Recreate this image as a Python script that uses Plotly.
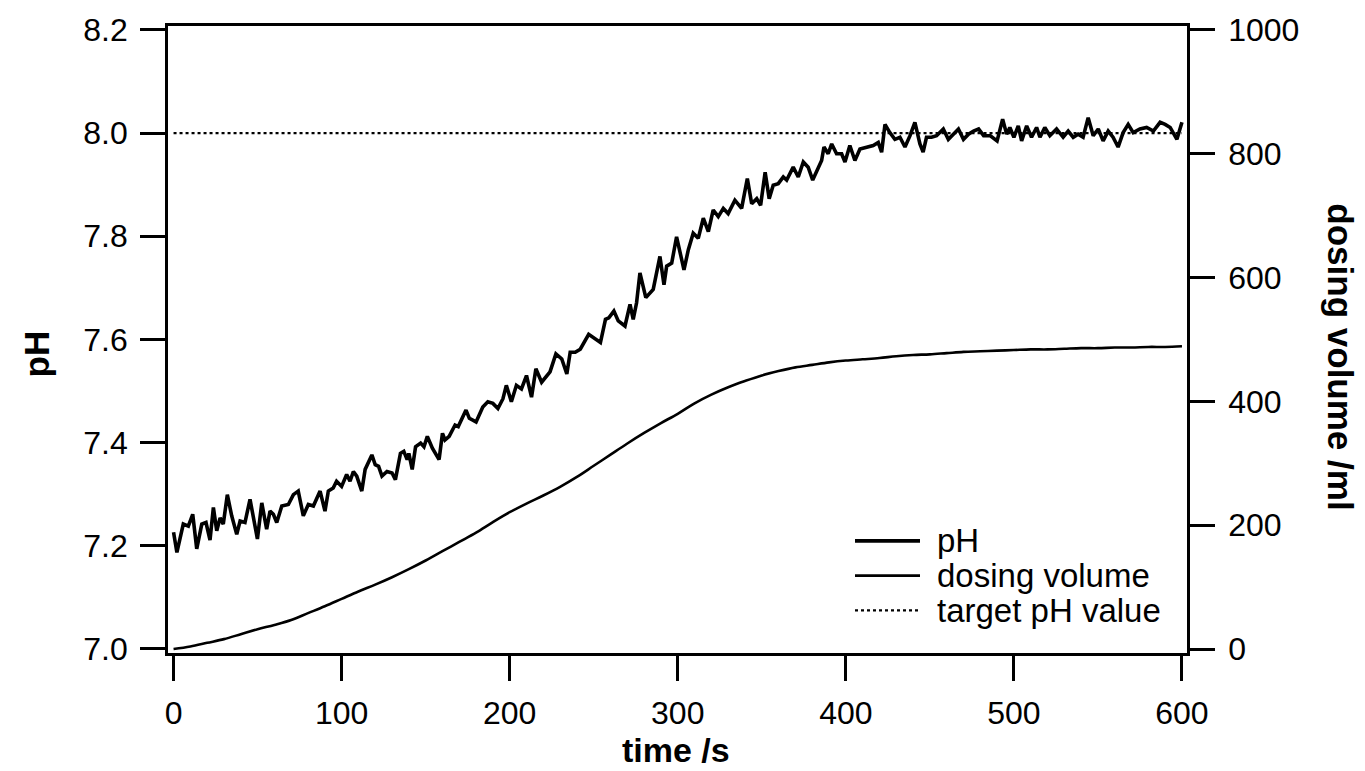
import plotly.graph_objects as go

# ---------------- data ----------------
ph_time = [0, 2, 5.8, 8.8, 11.4, 13.8, 16.8, 19.3, 21.7, 23.7, 25.7, 27.7, 29.6, 32, 34.6, 37.6, 39.6,
           42.5, 45.5, 47.5, 49.9, 52.5, 55.4, 57.4, 59.4, 61.4, 64.4, 68.3, 71.3, 74.2, 77.2, 80.2,
           83.2, 87.2, 90.1, 92.1, 95, 97, 100, 103, 105, 107, 109, 112, 114, 118, 120, 122, 124,
           127, 130, 132, 135, 137, 139, 140, 142, 144, 147, 149, 151, 154, 158, 160, 161.5, 164,
           167.5, 169.4, 171.4, 174, 176, 180, 184, 187, 190, 193, 196, 198, 201, 204, 207, 210,
           213, 215.6, 219, 224, 227.5, 231, 234, 236, 239, 242, 247, 251, 254, 257, 259, 262,
           264.6, 268.6, 271.6, 273.5, 275.5, 277.5, 281, 285.4, 289.4, 291.8, 293.4, 296.4, 299.3,
           303.7, 306.3, 309.2, 312.2, 315.2, 318.2, 321.1, 324.1, 327.1, 330, 334, 338, 341.4, 344,
           347, 349.3, 352, 354.4, 356.8, 359.8, 362.8, 364.8, 368.7, 371.7, 374.7, 377.6, 380.3,
           382.6, 385.6, 387, 389.5, 391.6, 394.5, 397.5, 399.5, 402.4, 405.4, 408.4, 412.4, 416.3,
           419.3, 421.3, 423.3, 426.2, 429.2, 432.2, 435.2, 438.2, 441.1, 444.1, 446, 448, 451, 454,
           458, 461, 464, 467, 470, 473, 476, 479, 482, 486, 490, 493.3, 495.7, 497.6, 500, 502.6,
           504.6, 507.6, 510.5, 513.5, 515.5, 518.4, 521.4, 525.4, 529.3, 532.3, 535.3, 538.2,
           541.2, 544.2, 547.2, 550.2, 553.1, 556.1, 559, 562, 565, 568, 571, 575, 579, 583, 587,
           590, 593, 597, 600]
ph_value = [7.226, 7.187, 7.242, 7.238, 7.261, 7.194, 7.242, 7.245, 7.211, 7.274, 7.229, 7.254,
            7.242, 7.299, 7.258, 7.222, 7.248, 7.245, 7.290, 7.254, 7.213, 7.283, 7.232, 7.267,
            7.261, 7.245, 7.277, 7.280, 7.299, 7.306, 7.258, 7.280, 7.277, 7.306, 7.267, 7.306,
            7.312, 7.325, 7.315, 7.338, 7.325, 7.344, 7.335, 7.306, 7.348, 7.376, 7.357, 7.354,
            7.335, 7.344, 7.341, 7.328, 7.379, 7.383, 7.367, 7.379, 7.348, 7.392, 7.399, 7.392,
            7.412, 7.389, 7.367, 7.418, 7.405, 7.412, 7.434, 7.431, 7.444, 7.463, 7.447, 7.440,
            7.469, 7.479, 7.476, 7.466, 7.485, 7.511, 7.479, 7.511, 7.504, 7.530, 7.488, 7.543,
            7.517, 7.537, 7.572, 7.562, 7.533, 7.575, 7.575, 7.581, 7.610, 7.601, 7.594, 7.639,
            7.642, 7.655, 7.636, 7.626, 7.668, 7.639, 7.671, 7.729, 7.681, 7.697, 7.761, 7.706,
            7.742, 7.748, 7.799, 7.735, 7.774, 7.806, 7.796, 7.835, 7.809, 7.851, 7.838, 7.854,
            7.844, 7.870, 7.854, 7.912, 7.863, 7.873, 7.860, 7.924, 7.873, 7.899, 7.902, 7.915,
            7.909, 7.934, 7.915, 7.944, 7.934, 7.909, 7.924, 7.947, 7.973, 7.960, 7.979, 7.960,
            7.960, 7.944, 7.976, 7.947, 7.969, 7.973, 7.976, 7.982, 7.963, 8.017, 8.001, 7.988,
            7.992, 7.973, 7.995, 8.021, 7.979, 7.963, 7.992, 7.992, 7.995, 8.008, 7.988, 7.998,
            8.008, 7.988, 7.998, 8.004, 8.008, 7.995, 7.995, 7.985, 8.027, 7.998, 8.011, 7.992,
            8.014, 7.985, 8.014, 7.992, 8.011, 7.992, 8.011, 7.995, 8.008, 7.992, 8.004, 7.992,
            7.998, 7.992, 8.030, 7.995, 8.008, 7.985, 8.004, 7.992, 7.973, 8.001, 8.017, 8.001,
            8.008, 8.011, 8.004, 8.021, 8.017, 8.011, 7.988, 8.021]

dose_time = [0, 10, 20, 30, 40, 50, 60, 70, 80, 90, 100, 110, 120, 130, 140, 150, 160, 170, 180,
             190, 200, 210, 220, 230, 240, 250, 260, 270, 280, 290, 300, 310, 320, 330, 340, 350,
             360, 370, 380, 390, 400, 410, 420, 430, 440, 450, 460, 470, 480, 490, 500, 510, 520,
             530, 540, 550, 560, 570, 580, 590, 600]
dose_volume = [0, 4, 10, 16, 24, 32, 39, 47, 58, 69, 81, 93, 104, 116, 129, 143, 158, 173, 188,
               205, 221, 235, 248, 262, 278, 296, 314, 332, 349, 365, 380, 397, 411, 423, 433, 442,
               449, 455, 459, 463, 466, 468, 470, 473, 475, 476, 478, 480, 481, 482, 483, 484, 484,
               485, 486, 486, 487, 487, 488, 488, 489]

target_time = [0, 600]
target_ph = [8.0, 8.0]

x_ticks = [0, 100, 200, 300, 400, 500, 600]
ph_ticks = [7.0, 7.2, 7.4, 7.6, 7.8, 8.0, 8.2]
vol_ticks = [0, 200, 400, 600, 800, 1000]

legend_labels = ["pH", "dosing volume", "target pH value"]

# ---------------- figure ----------------
W, H = 1365, 771
L, R, T, B = 168, 1187, 21, 653
FONT = "Liberation Sans, Arial, Helvetica, sans-serif"
TICKFONT = dict(family=FONT, size=32, color="black")

fig = go.Figure()
fig.add_trace(go.Scatter(x=ph_time, y=ph_value, mode="lines", name=legend_labels[0],
                         line=dict(color="black", width=3.6), showlegend=False))
fig.add_trace(go.Scatter(x=dose_time, y=dose_volume, mode="lines", name=legend_labels[1],
                         line=dict(color="black", width=2.6, shape="spline"), yaxis="y2",
                         showlegend=False))
fig.add_trace(go.Scatter(x=target_time, y=target_ph, mode="lines", name=legend_labels[2],
                         line=dict(color="black", width=2.2, dash="dot"), showlegend=False))

axis_common = dict(showline=True, linecolor="black", linewidth=2.6, ticks="outside",
                   ticklen=25, tickwidth=2.6, tickcolor="black", showgrid=False,
                   zeroline=False, tickfont=TICKFONT)

fig.update_layout(
    width=W, height=H,
    margin=dict(l=L, r=W - R, t=T, b=H - B, pad=0),
    paper_bgcolor="white", plot_bgcolor="white",
    showlegend=False,
    xaxis=dict(range=[-3.3, 603], tickvals=x_ticks, mirror=True, ticklabelstandoff=5,
               **axis_common),
    yaxis=dict(range=[6.992, 8.2077], tickvals=ph_ticks, tickformat=".1f", mirror=True,
               ticklabelstandoff=6, **axis_common),
    yaxis2=dict(range=[-6.4, 1006.4], tickvals=vol_ticks, overlaying="y", side="right",
                ticklabelstandoff=7, **axis_common),
)

def px(xp):
    return (xp - L) / (R - L)

def py(yp):
    return (B - yp) / (B - T)

# axis titles
fig.add_annotation(text="time /s", x=px(676), y=py(751), xref="paper", yref="paper",
                   showarrow=False, xanchor="center", yanchor="middle",
                   font=dict(family=FONT, size=34, color="black", weight="bold"))
fig.add_annotation(text="pH", x=px(36), y=py(352), xref="paper", yref="paper",
                   showarrow=False, xanchor="center", yanchor="middle", textangle=-90,
                   font=dict(family=FONT, size=35, color="black", weight="bold"))
fig.add_annotation(text="dosing volume /ml", x=px(1341), y=py(354), xref="paper",
                   yref="paper", showarrow=False, xanchor="center", yanchor="middle",
                   textangle=90, font=dict(family=FONT, size=35, color="black", weight="bold"))

# legend (drawn manually to match the long sample lines)
leg_rows = [540, 575, 610]
leg_styles = [dict(width=3.6, dash="solid"), dict(width=2.6, dash="solid"),
              dict(width=2.2, dash="dot")]
for label, yrow, st in zip(legend_labels, leg_rows, leg_styles):
    fig.add_shape(type="line", xref="paper", yref="paper", x0=px(855), x1=px(920),
                  y0=py(yrow), y1=py(yrow), line=dict(color="black", **st))
    fig.add_annotation(text=label, x=px(935), y=py(yrow), xref="paper", yref="paper",
                       showarrow=False, xanchor="left", yanchor="middle",
                       font=dict(family=FONT, size=33, color="black"))

fig.write_html("out.html", config={"displayModeBar": False},
               post_script="document.body.style.margin='0';document.body.style.overflow='hidden';")
